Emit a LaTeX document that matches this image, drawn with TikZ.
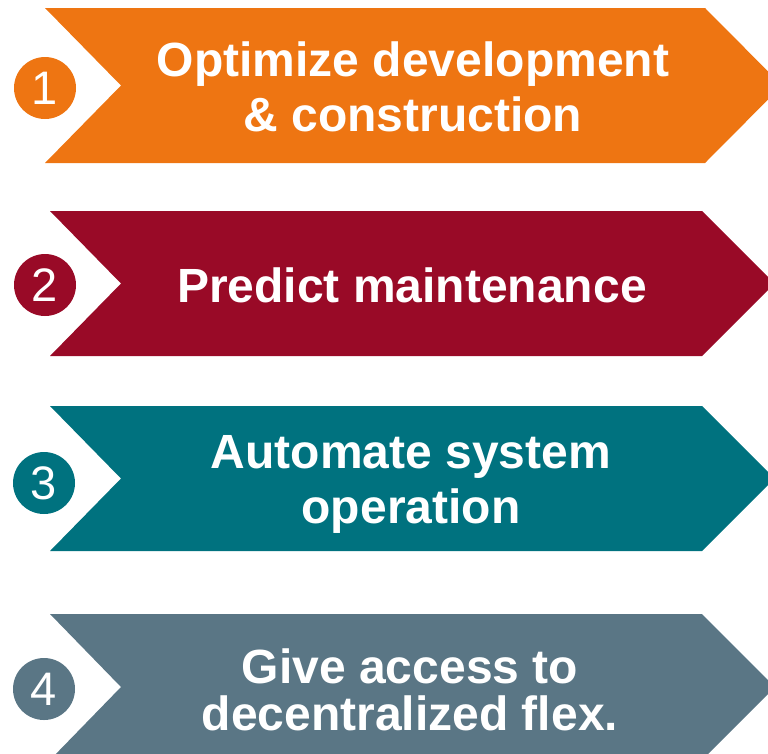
\documentclass[tikz,border=0pt]{standalone}
\usepackage{fontspec}
\setmainfont{Liberation Sans}
\definecolor{stepOrange}{HTML}{EE7512}
\definecolor{stepRed}{HTML}{990A27}
\definecolor{stepTeal}{HTML}{00727F}
\definecolor{stepSlate}{HTML}{5A7685}
\begin{document}
\begin{tikzpicture}[x=1pt,y=-1pt,
		numdot/.style={circle,inner sep=0pt,minimum size=62pt,text=white,font=\fontsize{47}{47}\selectfont},
		steptext/.style={anchor=base,inner sep=0pt,align=center,text=white,font=\fontsize{48}{55}\selectfont\bfseries}]
				\useasboundingbox (0,0) rectangle (768,753);
				\clip (0,0) rectangle (768,753);
				
				\fill[stepOrange] (45,8) -- (705,8) -- (782,85.5) -- (705,163) -- (45,163) -- (121,85.5) -- cycle;
				\fill[stepRed] (50,211) -- (702,211) -- (774.5,283.5) -- (702,356) -- (50,356) -- (121,283.5) -- cycle;
				\fill[stepTeal] (50,406) -- (702,406) -- (774.5,478.5) -- (702,551) -- (50,551) -- (121,478.5) -- cycle;
				\fill[stepSlate] (50,614) -- (702,614) -- (775,687) -- (702,760) -- (50,760) -- (121,687) -- cycle;
				
				\draw (45,88) node[numdot,fill=stepOrange] (n1) {1};
				\draw (45,285) node[numdot,fill=stepRed] (n2) {2};
				\draw (44,483) node[numdot,fill=stepTeal] (n3) {3};
				\draw (44,689) node[numdot,fill=stepSlate] (n4) {4};
				
				\draw (413,131) node[steptext] (t1) {Optimize development\\\& construction};
				\draw (412,302) node[steptext] (t2) {Predict maintenance};
				\draw (411,523) node[steptext] (t3) {Automate system\\operation};
				\draw (410,730) node[steptext,font=\fontsize{48}{47}\selectfont\bfseries] (t4) {Give access to\\decentralized flex.};
			\end{tikzpicture}
\end{document}
